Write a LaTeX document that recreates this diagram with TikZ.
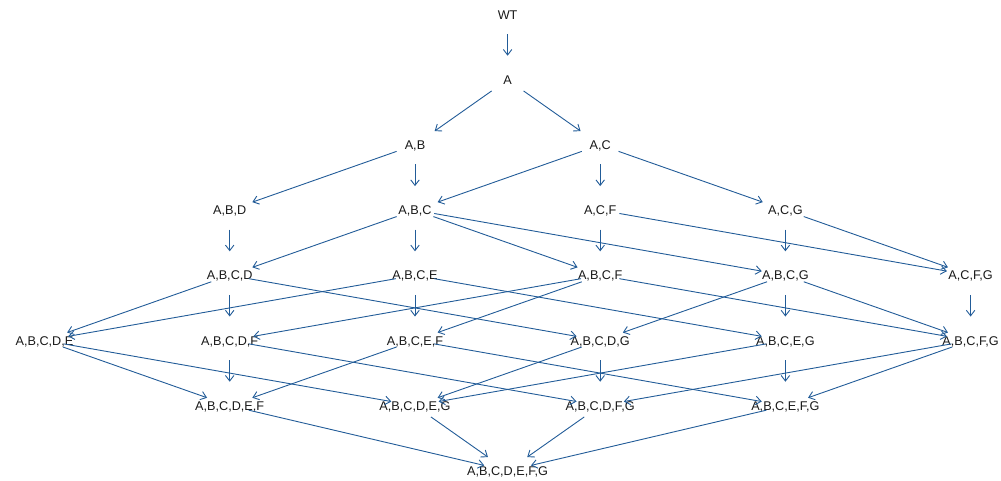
\documentclass[tikz,border=0pt]{standalone}
\usepackage{fontspec}
\setmainfont{Liberation Sans}
\usetikzlibrary{arrows.meta}
\definecolor{edgeblue}{RGB}{34,92,152}
\definecolor{labelgray}{RGB}{25,25,25}
\begin{document}
\begin{tikzpicture}[x=1pt,y=-1pt,
  lbl/.style={inner sep=0pt, text height=9.07pt, text depth=0pt, anchor=center,
    font=\fontsize{12.66}{15}\selectfont, text=labelgray},
  edge/.style={draw=edgeblue, line width=0.9pt,
    -{Straight Barb[length=5.5pt,width=8.5pt]},
    shorten <=19.5pt, shorten >=24pt}]
\useasboundingbox (0,0) rectangle (1001,480);
\def\ca{44.5}\def\cb{229.7}\def\cc{415}\def\cd{600.2}\def\ce{785.4}\def\cf{970.6}\def\cm{507.6}
\def\ra{14.5}\def\rb{79.7}\def\rc{144.9}\def\rd{210.1}\def\re{275.3}\def\rf{340.5}\def\rg{405.7}\def\rh{470.9}
\node[lbl] (wt) at (\cm,\ra) {WT};
\node[lbl] (a) at (\cm,\rb) {A};
\node[lbl] (ab) at (\cc,\rc) {A,B};
\node[lbl] (ac) at (\cd,\rc) {A,C};
\node[lbl] (abd) at (\cb,\rd) {A,B,D};
\node[lbl] (abc) at (\cc,\rd) {A,B,C};
\node[lbl] (acf) at (\cd,\rd) {A,C,F};
\node[lbl] (acg) at (\ce,\rd) {A,C,G};
\node[lbl] (abcd) at (\cb,\re) {A,B,C,D};
\node[lbl] (abce) at (\cc,\re) {A,B,C,E};
\node[lbl] (abcf) at (\cd,\re) {A,B,C,F};
\node[lbl] (abcg) at (\ce,\re) {A,B,C,G};
\node[lbl] (acfg) at (\cf,\re) {A,C,F,G};
\node[lbl] (abcde) at (\ca,\rf) {A,B,C,D,E};
\node[lbl] (abcdf) at (\cb,\rf) {A,B,C,D,F};
\node[lbl] (abcef) at (\cc,\rf) {A,B,C,E,F};
\node[lbl] (abcdg) at (\cd,\rf) {A,B,C,D,G};
\node[lbl] (abceg) at (\ce,\rf) {A,B,C,E,G};
\node[lbl] (abcfg) at (\cf,\rf) {A,B,C,F,G};
\node[lbl] (abcdef) at (\cb,\rg) {A,B,C,D,E,F};
\node[lbl] (abcdeg) at (\cc,\rg) {A,B,C,D,E,G};
\node[lbl] (abcdfg) at (\cd,\rg) {A,B,C,D,F,G};
\node[lbl] (abcefg) at (\ce,\rg) {A,B,C,E,F,G};
\node[lbl] (abcdefg) at (\cm,\rh) {A,B,C,D,E,F,G};
\foreach \s/\t in {wt/a, a/ab, a/ac,
  ab/abd, ab/abc, ac/abc, ac/acf, ac/acg,
  abd/abcd, abc/abcd, abc/abce, abc/abcf, abc/abcg, acf/abcf, acf/acfg, acg/abcg, acg/acfg,
  abcd/abcde, abcd/abcdf, abcd/abcdg, abce/abcde, abce/abcef, abce/abceg,
  abcf/abcdf, abcf/abcef, abcf/abcfg, abcg/abcdg, abcg/abceg, abcg/abcfg, acfg/abcfg,
  abcde/abcdef, abcde/abcdeg, abcdf/abcdef, abcdf/abcdfg, abcef/abcdef, abcef/abcefg,
  abcdg/abcdeg, abcdg/abcdfg, abceg/abcdeg, abceg/abcefg, abcfg/abcdfg, abcfg/abcefg,
  abcdef/abcdefg, abcdeg/abcdefg, abcdfg/abcdefg, abcefg/abcdefg}
  \draw[edge] (\s.center) -- (\t.center);
\end{tikzpicture}
\end{document}
